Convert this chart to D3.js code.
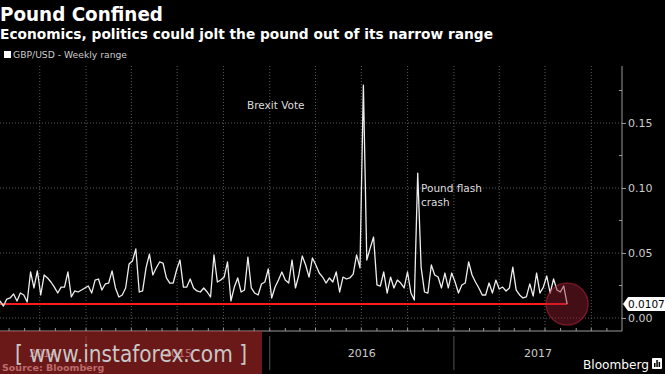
<!DOCTYPE html>
<html>
<head>
<meta charset="utf-8">
<script src="https://cdn.jsdelivr.net/npm/d3@7/dist/d3.min.js"></script>
<style>
  body { margin: 0; background: #000; }
  svg { display: block; }
  text { font-family: "DejaVu Sans", sans-serif; }
</style>
</head>
<body>
<script>
// GBP/USD weekly range
var weeklyRange = [
  0.0131, 0.0092, 0.0146, 0.0154, 0.0185, 0.0131, 0.0192, 0.0177, 0.0123, 0.0354,
  0.0231, 0.0362, 0.0177, 0.0331, 0.0308, 0.0277, 0.0238, 0.0192, 0.0238, 0.0238,
  0.0354, 0.0162, 0.0208, 0.0200, 0.0215, 0.0231, 0.0246, 0.0192, 0.0292, 0.0300,
  0.0215, 0.0262, 0.0269, 0.0362, 0.0231, 0.0162,
  0.0177, 0.0231, 0.0415, 0.0438, 0.0531, 0.0200, 0.0208, 0.0385, 0.0492, 0.0331,
  0.0385, 0.0431, 0.0423, 0.0308, 0.0269, 0.0269, 0.0369, 0.0446, 0.0238, 0.0238,
  0.0300, 0.0231, 0.0208, 0.0200, 0.0231, 0.0200, 0.0162, 0.0485, 0.0277, 0.0292,
  0.0315, 0.0431, 0.0131,
  0.0238, 0.0308, 0.0200, 0.0215, 0.0469, 0.0231, 0.0192, 0.0177, 0.0262, 0.0277,
  0.0377, 0.0154, 0.0238, 0.0292, 0.0354, 0.0292, 0.0269, 0.0446, 0.0231, 0.0331,
  0.0477, 0.0408, 0.0315, 0.0462, 0.0408, 0.0346, 0.0315, 0.0269, 0.0308, 0.0277,
  0.0354, 0.0200, 0.0315, 0.0300,
  0.0308, 0.0338, 0.0485, 0.0385, 0.1792, 0.0446, 0.0538, 0.0623, 0.0254, 0.0246,
  0.0354, 0.0192, 0.0315, 0.0231, 0.0292, 0.0269, 0.0231, 0.0354, 0.0192, 0.0138,
  0.1115, 0.0392, 0.0200, 0.0192, 0.0408, 0.0331, 0.0315, 0.0231, 0.0346, 0.0231,
  0.0346, 0.0277, 0.0192, 0.0254,
  0.0269, 0.0431, 0.0331, 0.0277, 0.0231, 0.0177, 0.0177, 0.0269, 0.0192, 0.0292,
  0.0223, 0.0238, 0.0208, 0.0231, 0.0392, 0.0215, 0.0177, 0.0154, 0.0162, 0.0262,
  0.0169, 0.0346, 0.0192, 0.0238, 0.0323, 0.0192, 0.0300, 0.0215, 0.0200, 0.0246,
  0.0107
];
var firstWeek = new Date(2014, 6, 14);
var lastWeek = new Date(2017, 7, 14);
var lastValue = 0.0107;

var yTicks = [0, 0.05, 0.10, 0.15];
var yearLabels = ["2014", "2015", "2016", "2017"];

var titleText = "Pound Confined";
var subtitleText = "Economics, politics could jolt the pound out of its narrow range";
var legendText = "GBP/USD - Weekly range";

var width = 665, height = 374;
var plotRight = 622, plotTop = 66, plotBottom = 331;

var svg = d3.select("body").append("svg")
    .attr("width", width)
    .attr("height", height);

svg.append("rect").attr("width", width).attr("height", height).attr("fill", "#000");

var n = weeklyRange.length;
var dates = d3.range(n).map(function(i) {
  return new Date(+firstWeek + i * (lastWeek - firstWeek) / (n - 1));
});
var data = weeklyRange.map(function(v, i) { return {date: dates[i], value: v}; });

var x = d3.scaleTime()
    .domain([new Date(2014, 6, 14), new Date(2017, 11, 1)])
    .range([0, plotRight]);
var y = d3.scaleLinear()
    .domain([-0.01, 0.19385])
    .range([plotBottom, plotTop]);

// title block
svg.append("text").attr("x", 0).attr("y", 21)
    .attr("fill", "#fff").attr("font-size", 20).attr("font-weight", "bold")
    .attr("textLength", 163).attr("lengthAdjust", "spacingAndGlyphs")
    .text(titleText);
svg.append("text").attr("x", 0).attr("y", 39)
    .attr("fill", "#fff").attr("font-size", 14).attr("font-weight", "bold")
    .attr("textLength", 493).attr("lengthAdjust", "spacingAndGlyphs")
    .text(subtitleText);
svg.append("rect").attr("x", 4).attr("y", 51).attr("width", 7).attr("height", 7).attr("fill", "#fff");
svg.append("text").attr("x", 13).attr("y", 58)
    .attr("fill", "#ccc").attr("font-size", 9.5)
    .attr("textLength", 114).attr("lengthAdjust", "spacingAndGlyphs")
    .text(legendText);

// grid
var quarters = d3.timeMonth.every(3).range(x.domain()[0], x.domain()[1]);
svg.append("g").selectAll("line").data(quarters).enter().append("line")
    .attr("x1", function(d) { return x(d); }).attr("x2", function(d) { return x(d); })
    .attr("y1", plotTop).attr("y2", plotBottom)
    .attr("stroke", "#5a5a5a").attr("stroke-width", 1).attr("stroke-dasharray", "1,2");
svg.append("g").selectAll("line").data(yTicks).enter().append("line")
    .attr("x1", 0).attr("x2", plotRight)
    .attr("y1", function(d) { return y(d); }).attr("y2", function(d) { return y(d); })
    .attr("stroke", "#5a5a5a").attr("stroke-width", 1).attr("stroke-dasharray", "1,2");

// right axis
var rightAxis = d3.axisRight(y).tickValues(yTicks).tickSize(4).tickPadding(2)
    .tickFormat(d3.format(".2f"));
var ra = svg.append("g").attr("transform", "translate(" + plotRight + ",0)").call(rightAxis);
ra.select(".domain").attr("stroke", "#999").attr("d", "M0," + plotTop + "V" + plotBottom);
ra.selectAll(".tick line").attr("stroke", "#999");
ra.selectAll(".tick text").attr("fill", "#ccc").attr("font-size", 11)
    .attr("font-family", "DejaVu Sans, sans-serif");
var minorY = [0.025, 0.075, 0.125, 0.175];
svg.append("g").selectAll("line").data(minorY).enter().append("line")
    .attr("x1", plotRight - 3).attr("x2", plotRight)
    .attr("y1", function(d) { return y(d); }).attr("y2", function(d) { return y(d); })
    .attr("stroke", "#999");

// bottom axis
var months = d3.timeMonth.range(x.domain()[0], x.domain()[1]);
svg.append("line").attr("x1", 0).attr("x2", plotRight)
    .attr("y1", plotBottom).attr("y2", plotBottom).attr("stroke", "#999");
svg.append("g").selectAll("line").data(months).enter().append("line")
    .attr("x1", function(d) { return x(d); }).attr("x2", function(d) { return x(d); })
    .attr("y1", plotBottom - 3).attr("y2", plotBottom).attr("stroke", "#999");
var years = [new Date(2015, 0, 1), new Date(2016, 0, 1), new Date(2017, 0, 1)];
svg.append("g").selectAll("line").data(years).enter().append("line")
    .attr("x1", function(d) { return x(d); }).attr("x2", function(d) { return x(d); })
    .attr("y1", 336).attr("y2", 370).attr("stroke", "#555");
var yearBounds = [0, x(years[0]), x(years[1]), x(years[2]), plotRight];
svg.append("g").selectAll("text").data(yearLabels).enter().append("text")
    .attr("x", function(d, i) { return (yearBounds[i] + yearBounds[i + 1]) / 2; })
    .attr("y", 357).attr("text-anchor", "middle")
    .attr("fill", "#ccc").attr("font-size", 11)
    .text(function(d) { return d; });

// last value reference line
svg.append("line")
    .attr("x1", x(firstWeek)).attr("x2", x(lastWeek))
    .attr("y1", y(lastValue)).attr("y2", y(lastValue))
    .attr("stroke", "#ff1a1a").attr("stroke-width", 2);

// series
var line = d3.line().x(function(d) { return x(d.date); }).y(function(d) { return y(d.value); });
svg.append("path").datum(data)
    .attr("d", line).attr("fill", "none")
    .attr("stroke", "#eee").attr("stroke-width", 1.3).attr("stroke-linejoin", "round");

// highlight circle
svg.append("circle")
    .attr("cx", x(lastWeek)).attr("cy", y(lastValue)).attr("r", 21)
    .attr("fill", "rgba(150,30,50,0.45)").attr("stroke", "rgba(190,40,60,0.5)").attr("stroke-width", 1.5);

// value flag
var fy = y(lastValue);
svg.append("path")
    .attr("d", "M" + (plotRight + 1) + "," + fy + "L" + (plotRight + 6) + "," + (fy - 7) +
         "H" + width + "V" + (fy + 7) + "H" + (plotRight + 6) + "Z")
    .attr("fill", "#fff");
svg.append("text").attr("x", plotRight + 6).attr("y", fy + 4)
    .attr("fill", "#000").attr("font-size", 10.5)
    .text(d3.format(".4f")(lastValue));

// annotations
svg.append("text").attr("x", 247).attr("y", 109).attr("fill", "#ddd").attr("font-size", 10.5)
    .text("Brexit Vote");
svg.append("text").attr("x", 421).attr("y", 192).attr("fill", "#ddd").attr("font-size", 10.5)
    .text("Pound flash");
svg.append("text").attr("x", 421).attr("y", 206).attr("fill", "#ddd").attr("font-size", 10.5)
    .text("crash");

// footer
svg.append("text").attr("x", 2).attr("y", 371).attr("fill", "#ccc")
    .attr("font-size", 9.5).attr("font-weight", "bold").text("Source: Bloomberg");
svg.append("text").attr("x", 583).attr("y", 369).attr("fill", "#fff")
    .attr("font-size", 12.5).attr("textLength", 66).attr("lengthAdjust", "spacingAndGlyphs")
    .text("Bloomberg");
svg.append("rect").attr("x", 652).attr("y", 358).attr("width", 10).attr("height", 11)
    .attr("fill", "#fff").attr("rx", 1);
svg.append("g").selectAll("rect").data([4, 7, 5]).enter().append("rect")
    .attr("x", function(d, i) { return 654 + i * 2.3; }).attr("y", function(d) { return 367 - d; })
    .attr("width", 1.5).attr("height", function(d) { return d; }).attr("fill", "#000");

// watermark
svg.append("rect").attr("x", 0).attr("y", 331).attr("width", 262).attr("height", 43)
    .attr("fill", "rgba(178,40,40,0.6)");
svg.append("text").attr("x", 15).attr("y", 362).attr("fill", "#c8c8c8")
    .attr("font-family", "Liberation Sans, sans-serif").attr("font-size", 23)
    .attr("textLength", 232).attr("lengthAdjust", "spacingAndGlyphs")
    .text("[ www.instaforex.com ]");
</script>
</body>
</html>
